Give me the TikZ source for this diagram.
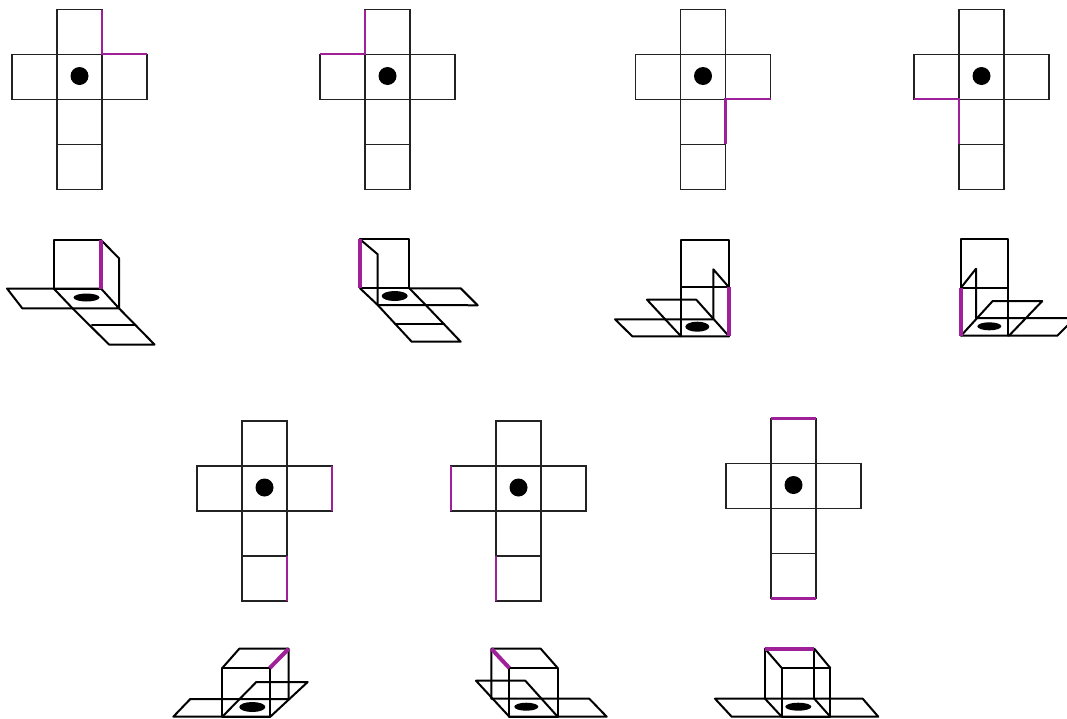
\documentclass[tikz,border=0pt]{standalone}
\definecolor{edgepurple}{HTML}{A0209A}
\definecolor{netink}{HTML}{222222}
\tikzset{
  netline/.style={draw=netink,line width=1.5pt,line join=miter},
  netedge/.style={draw=edgepurple,line width=2.6pt,line cap=butt},
  solidline/.style={draw=black,line width=2pt,line join=round,line cap=round},
  solidedge/.style={draw=edgepurple,line width=4pt,line cap=butt},
  hole/.style={fill=black,draw=none}
}
% #1 = left of the central column, #2 = top of the net
\newcommand{\crossnet}[2]{%
  \draw[netline,shift={(#1,#2)}]
    (0,0) rectangle (45,180)
    (-45,45) rectangle (90,90)
    (0,135) -- (45,135);
  \fill[hole,shift={(#1,#2)}] (22.5,66.5) circle (9);
}
\begin{document}
\begin{tikzpicture}[x=1pt,y=-1pt]
\clip (0,0) rectangle (1067,718);
\fill[white] (0,0) rectangle (1067,718);

% ---- flat nets
\crossnet{57}{9.5}
\crossnet{365}{9.5}
\crossnet{680.5}{9.5}
\crossnet{959}{9.5}
\crossnet{242}{421}
\crossnet{496}{421}
\crossnet{771}{418.5}

\draw[netedge] (102,9.5) -- (102,54) -- (147,54);
\draw[netedge] (365,9.5) -- (365,54) -- (320,54);
\draw[netedge] (725.5,144) -- (725.5,99) -- (770.5,99);
\draw[netedge] (959,144) -- (959,99) -- (914,99);
\draw[netedge] (332,466) -- (332,511) (287,556) -- (287,601);
\draw[netedge] (451,466) -- (451,511) (496,556) -- (496,601);
\draw[netedge] (771,418.5) -- (816,418.5) (771,598.5) -- (816,598.5);

% ---- folded 1
\draw[solidline] (53.7,288.5) rectangle (101,240);
\draw[solidline] (101,240) -- (119,258.3) -- (119,308.3);
\draw[solidline] (53.7,288.5) -- (101,288.5) -- (119,308.3) -- (72.5,308.3) -- cycle;
\draw[solidline] (53.7,288.5) -- (7,288.5) -- (22.3,308.3) -- (72.5,308.3);
\draw[solidline] (72.5,308.3) -- (109,344.5) -- (154.5,344.5) -- (119,308.3);
\draw[solidline] (92,325) -- (135,325);
\fill[hole] (86.5,297.5) ellipse (13 and 4);
\draw[solidedge] (100.5,240) -- (100.5,288.5);

% ---- folded 2
\draw[solidline] (360,288.3) rectangle (409.3,239.3);
\draw[solidline] (360,239.3) -- (377.7,254.3) -- (377.7,305);
\draw[solidline] (360,288.3) -- (377.7,305) -- (425.7,305) -- (409.3,288.3);
\draw[solidline] (409.3,288.3) -- (460.7,288.3) -- (477.7,305.3) -- (425.7,305);
\draw[solidline] (377.7,305) -- (411.7,341.7) -- (460.7,341.7) -- (425.7,305);
\draw[solidline] (395,324) -- (444.3,324);
\fill[hole] (394.7,296) ellipse (13 and 5);
\draw[solidedge] (360.3,239.3) -- (360.3,288.3);

% ---- folded 3
\draw[solidline] (681,336) -- (681,240) -- (729,240) -- (729,287.3) -- (681,287.3);
\draw[solidline] (729,287.3) -- (713.3,269.3) -- (713.3,319.3);
\draw[solidline] (713.3,319.3) -- (615,319.3) -- (632.3,336.3) -- (729,336.3);
\draw[solidline] (681,336.3) -- (647,299.7) -- (696.3,299.7) -- (729,336.3);
\fill[hole] (697.3,326.7) ellipse (12 and 5);
\draw[solidedge] (729,287.3) -- (729,336.3);

% ---- folded 4
\draw[solidline] (1008,335.7) -- (1008,239) -- (961,239) -- (961,287.7) -- (1008,287.7);
\draw[solidline] (961,287.7) -- (976,268.7) -- (976,318);
\draw[solidline] (976,318) -- (1075,318) -- (1057.3,335.7) -- (961,335.7);
\draw[solidline] (961,335.7) -- (992.7,301) -- (1042.3,301) -- (1009,335.7);
\fill[hole] (989.3,326.3) ellipse (12 and 4);
\draw[solidedge] (961,287.7) -- (961,335.7);

% ---- folded 5
\draw[solidline] (222.3,716.7) rectangle (269.7,668);
\draw[solidline] (222.3,668) -- (239.3,648.7) -- (288.7,648.7) -- (288.7,699);
\draw[solidline] (288.7,699) -- (190.3,699) -- (173.3,716.7) -- (270.3,716.7);
\draw[solidline] (222.3,716.7) -- (256.3,682) -- (307.7,682) -- (270.3,716.7);
\fill[hole] (252.3,707) ellipse (13 and 5);
\draw[solidedge] (269.7,668) -- (288.7,648.7);

% ---- folded 6
\draw[solidline] (509.3,716.7) rectangle (557.7,668);
\draw[solidline] (557.7,668) -- (540.7,648.7) -- (491.3,648.7) -- (491.3,698.7);
\draw[solidline] (491.3,698.7) -- (589.3,698.7) -- (606.7,716.7) -- (509.3,716.7);
\draw[solidline] (509.3,716.7) -- (476,680.7) -- (525.3,680.7) -- (557.7,716.7);
\fill[hole] (526.3,706.7) ellipse (12 and 4);
\draw[solidedge] (491.3,648.7) -- (509.3,668);

% ---- folded 7
\draw[solidline] (781.7,716.7) rectangle (830.3,668);
\draw[solidline] (765,698.7) -- (765,648.7) -- (814.3,648.7) -- (814.3,698.7);
\draw[solidline] (765,648.7) -- (781.7,668) (814.3,648.7) -- (830.3,668);
\draw[solidline] (731.7,716.7) -- (715,698.7) -- (862.7,698.7) -- (878.3,716.7) -- cycle;
\draw[solidline] (765,698.7) -- (781.7,716.7) (814.3,698.7) -- (830.3,716.7);
\fill[hole] (798.3,706.7) ellipse (13 and 4);
\draw[solidedge] (765,648.7) -- (814.3,648.7);
\end{tikzpicture}
\end{document}
